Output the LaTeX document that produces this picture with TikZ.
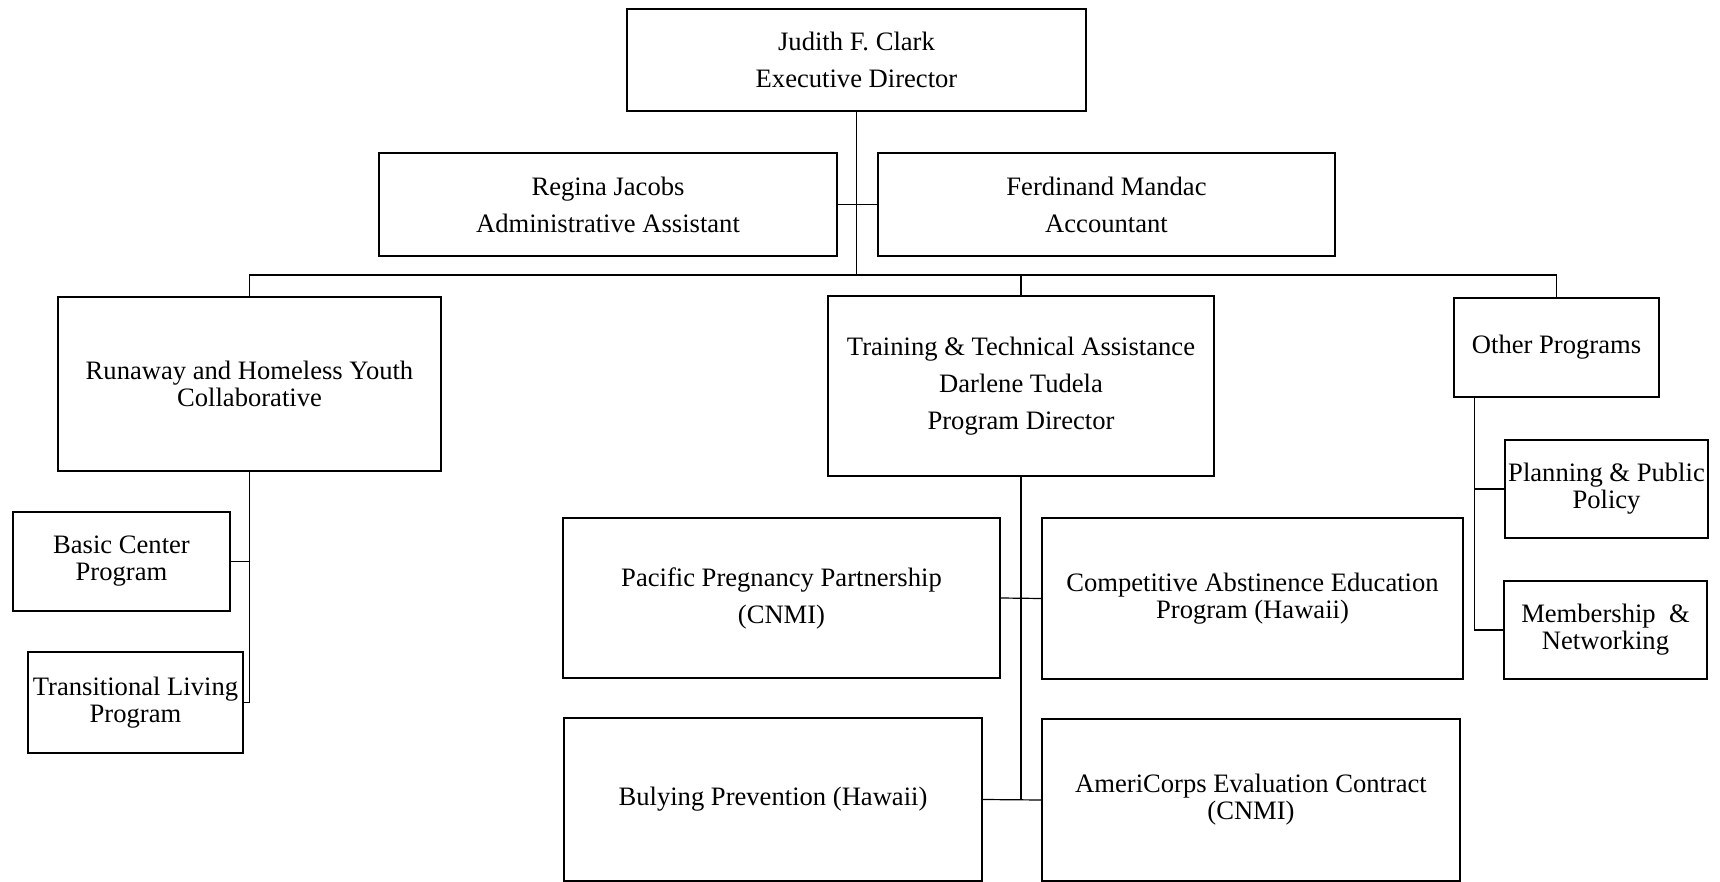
\documentclass[tikz,border=0pt]{standalone}
\usepackage{fontspec}
\setmainfont{Liberation Serif}
\begin{document}
\begin{tikzpicture}[x=0.5pt, y=-0.5pt,
  orgbox/.style={draw, line width=0.9pt, align=center, inner sep=0pt,
    font=\fontsize{13.3}{18.5}\selectfont},
  single/.style={font=\fontsize{13.3}{13.5}\selectfont},
  link/.style={line width=0.6pt}]
\useasboundingbox (0,0) rectangle (1720,882);

% top
\node[orgbox, minimum width=229.5pt, minimum height=51pt] (judith) at (856.5,60) {Judith F. Clark\\Executive Director};
\node[orgbox, minimum width=229pt, minimum height=51.5pt] (regina) at (608,204.5) {Regina Jacobs\\Administrative Assistant};
\node[orgbox, minimum width=228.5pt, minimum height=51.5pt] (ferdinand) at (1106.5,204.5) {Ferdinand Mandac\\Accountant};

% programs
\node[orgbox, single, minimum width=191.5pt, minimum height=87pt] (runaway) at (249.5,384) {Runaway and Homeless Youth\\Collaborative};
\node[orgbox, minimum width=193pt, minimum height=90pt] (training) at (1021,386) {Training \& Technical Assistance\\Darlene Tudela\\Program Director};
\node[orgbox, minimum width=102.5pt, minimum height=49.5pt] (other) at (1556.5,347.5) {Other Programs};

\node[orgbox, single, minimum width=108.5pt, minimum height=49.5pt] (basic) at (121.5,561.5) {Basic Center\\Program};
\node[orgbox, single, minimum width=107.5pt, minimum height=50.5pt] (transitional) at (135.5,702.5) {Transitional Living\\Program};

\node[orgbox, single, minimum width=101.5pt, minimum height=49pt] (planning) at (1606.5,489) {Planning \& Public\\Policy};
\node[orgbox, single, minimum width=101.5pt, minimum height=49pt] (membership) at (1605.5,630) {Membership~~\&\\Networking};

\node[orgbox, minimum width=218.5pt, minimum height=80pt] (pacific) at (781.5,598) {Pacific Pregnancy Partnership\\(CNMI)};
\node[orgbox, single, minimum width=210.5pt, minimum height=80.5pt] (competitive) at (1252.5,598.5) {Competitive Abstinence Education\\Program (Hawaii)};
\node[orgbox, minimum width=209pt, minimum height=81.5pt] (bulying) at (773,799.5) {Bulying Prevention (Hawaii)};
\node[orgbox, single, minimum width=209pt, minimum height=81pt] (americorps) at (1251,800) {AmeriCorps Evaluation Contract\\(CNMI)};

% lines
\coordinate (bus) at (856.5,275);
\draw[link] (judith.south) -- (bus);
\draw[link] (regina.east) -- (ferdinand.west);
\draw[link] (runaway.north) |- (bus) -| (other.north);
\draw[link] (training.north) -- (training.north |- bus);

\draw[link] (runaway.south) |- (transitional.east);
\draw[link] (basic.east) -- (basic.east -| runaway.south);

\draw[link] (training.south) |- (bulying.east);
\draw[link] (bulying.east) -- (americorps.west);
\draw[link] (pacific.east) -- (competitive.west);

\coordinate (otherdrop) at ([xshift=10.5pt]other.south west);
\draw[link] (otherdrop) |- (membership.west);
\draw[link] (planning.west) -- (planning.west -| otherdrop);
\end{tikzpicture}
\end{document}
